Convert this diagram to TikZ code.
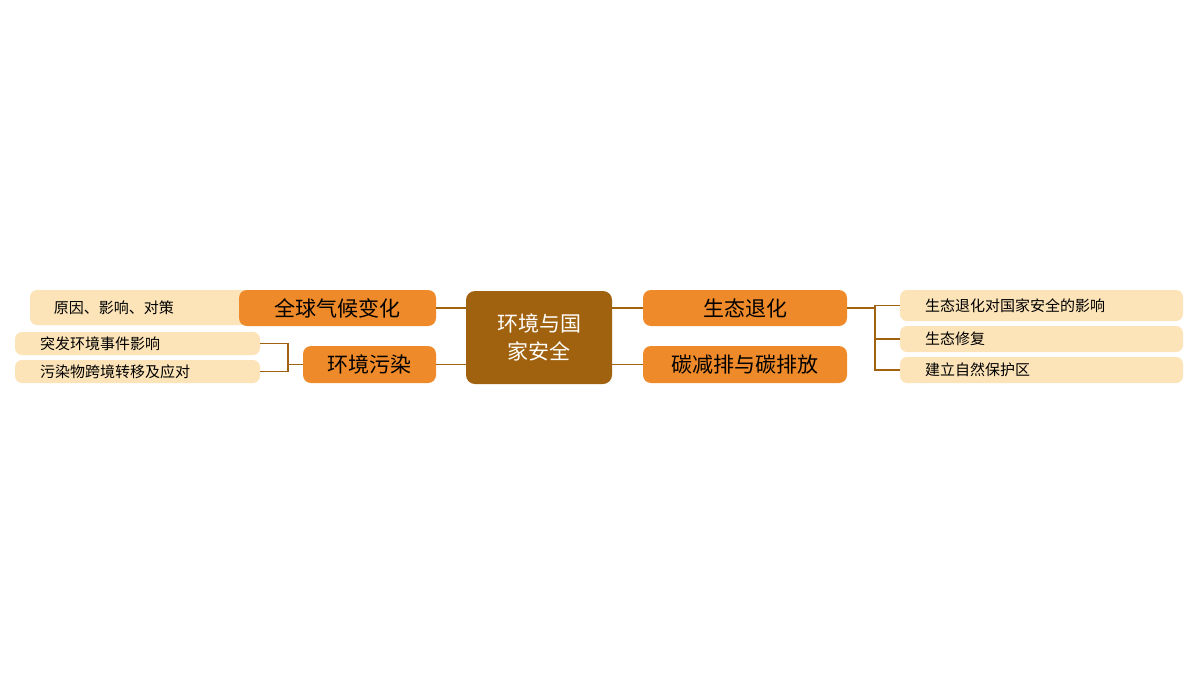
\documentclass[tikz,border=0pt]{standalone}
\usepackage{fontspec}
\setmainfont{Noto Sans CJK SC}
\usetikzlibrary{positioning}
\definecolor{hub}{HTML}{A0620E}
\definecolor{topic}{HTML}{EE8A2A}
\definecolor{leaf}{HTML}{FCE4B8}
\begin{document}
\begin{tikzpicture}[x=1pt,y=-1pt]
 \tikzset{link/.style={draw=hub,line width=1.6pt},
  topic/.style={fill=topic,rounded corners=8pt,minimum height=36pt,inner sep=0pt,font=\fontsize{21}{24}\selectfont},
  leaf/.style={fill=leaf,rounded corners=7pt,inner sep=0pt,text width=#1,align=left,font=\fontsize{15}{18}\selectfont}}
 \useasboundingbox[fill=white] (0,0) rectangle (1200,675);
 \node[leaf=260pt,minimum height=35pt] (R) at (160,307.5) {\hspace*{24pt}原因、影响、对策};
 \node[fill=hub,rounded corners=9pt,minimum width=146pt,minimum height=93pt,text=white,align=center,font=\fontsize{21}{28}\selectfont] (H) at (539,337.5) {环境与国\\家安全};
 \node[topic,minimum width=197pt] (A) at (337.5,308) {全球气候变化};
 \node[topic,minimum width=133pt,minimum height=37pt] (B) at (369.5,364.5) {环境污染};
 \node[topic,minimum width=204pt] (C) at (745,308) {生态退化};
 \node[topic,minimum width=204pt,minimum height=37pt] (D) at (745,364.5) {碳减排与碳排放};
 \node[leaf=245pt,minimum height=23pt] (B1) at (137.5,343.5) {\hspace*{25pt}突发环境事件影响};
 \node[leaf=245pt,minimum height=23pt] (B2) at (137.5,371.5) {\hspace*{25pt}污染物跨境转移及应对};
 \node[leaf=283pt,minimum height=31pt] (C1) at (1041.5,305.5) {\hspace*{25pt}生态退化对国家安全的影响};
 \node[leaf=283pt,minimum height=26pt] (C2) at (1041.5,339) {\hspace*{25pt}生态修复};
 \node[leaf=283pt,minimum height=26pt] (C3) at (1041.5,370) {\hspace*{25pt}建立自然保护区};
 \coordinate (bj) at (288,364.5);
 \coordinate (cj) at (875,308);
 % hub to topics
 \draw[link] (H.west |- A) -- (A);
 \draw[link] (H.west |- B) -- (B);
 \draw[link] (H.east |- C) -- (C);
 \draw[link] (H.east |- D) -- (D);
 % topics to leaves
 \draw[link] (B) -- (bj);
 \draw[link] (B1.east) -| (bj) |- (B2.east);
 \draw[link] (C) -- (cj) |- (C1.west);
 \draw[link] (cj) |- (C2.west);
 \draw[link] (cj) |- (C3.west);
\end{tikzpicture}
\end{document}
